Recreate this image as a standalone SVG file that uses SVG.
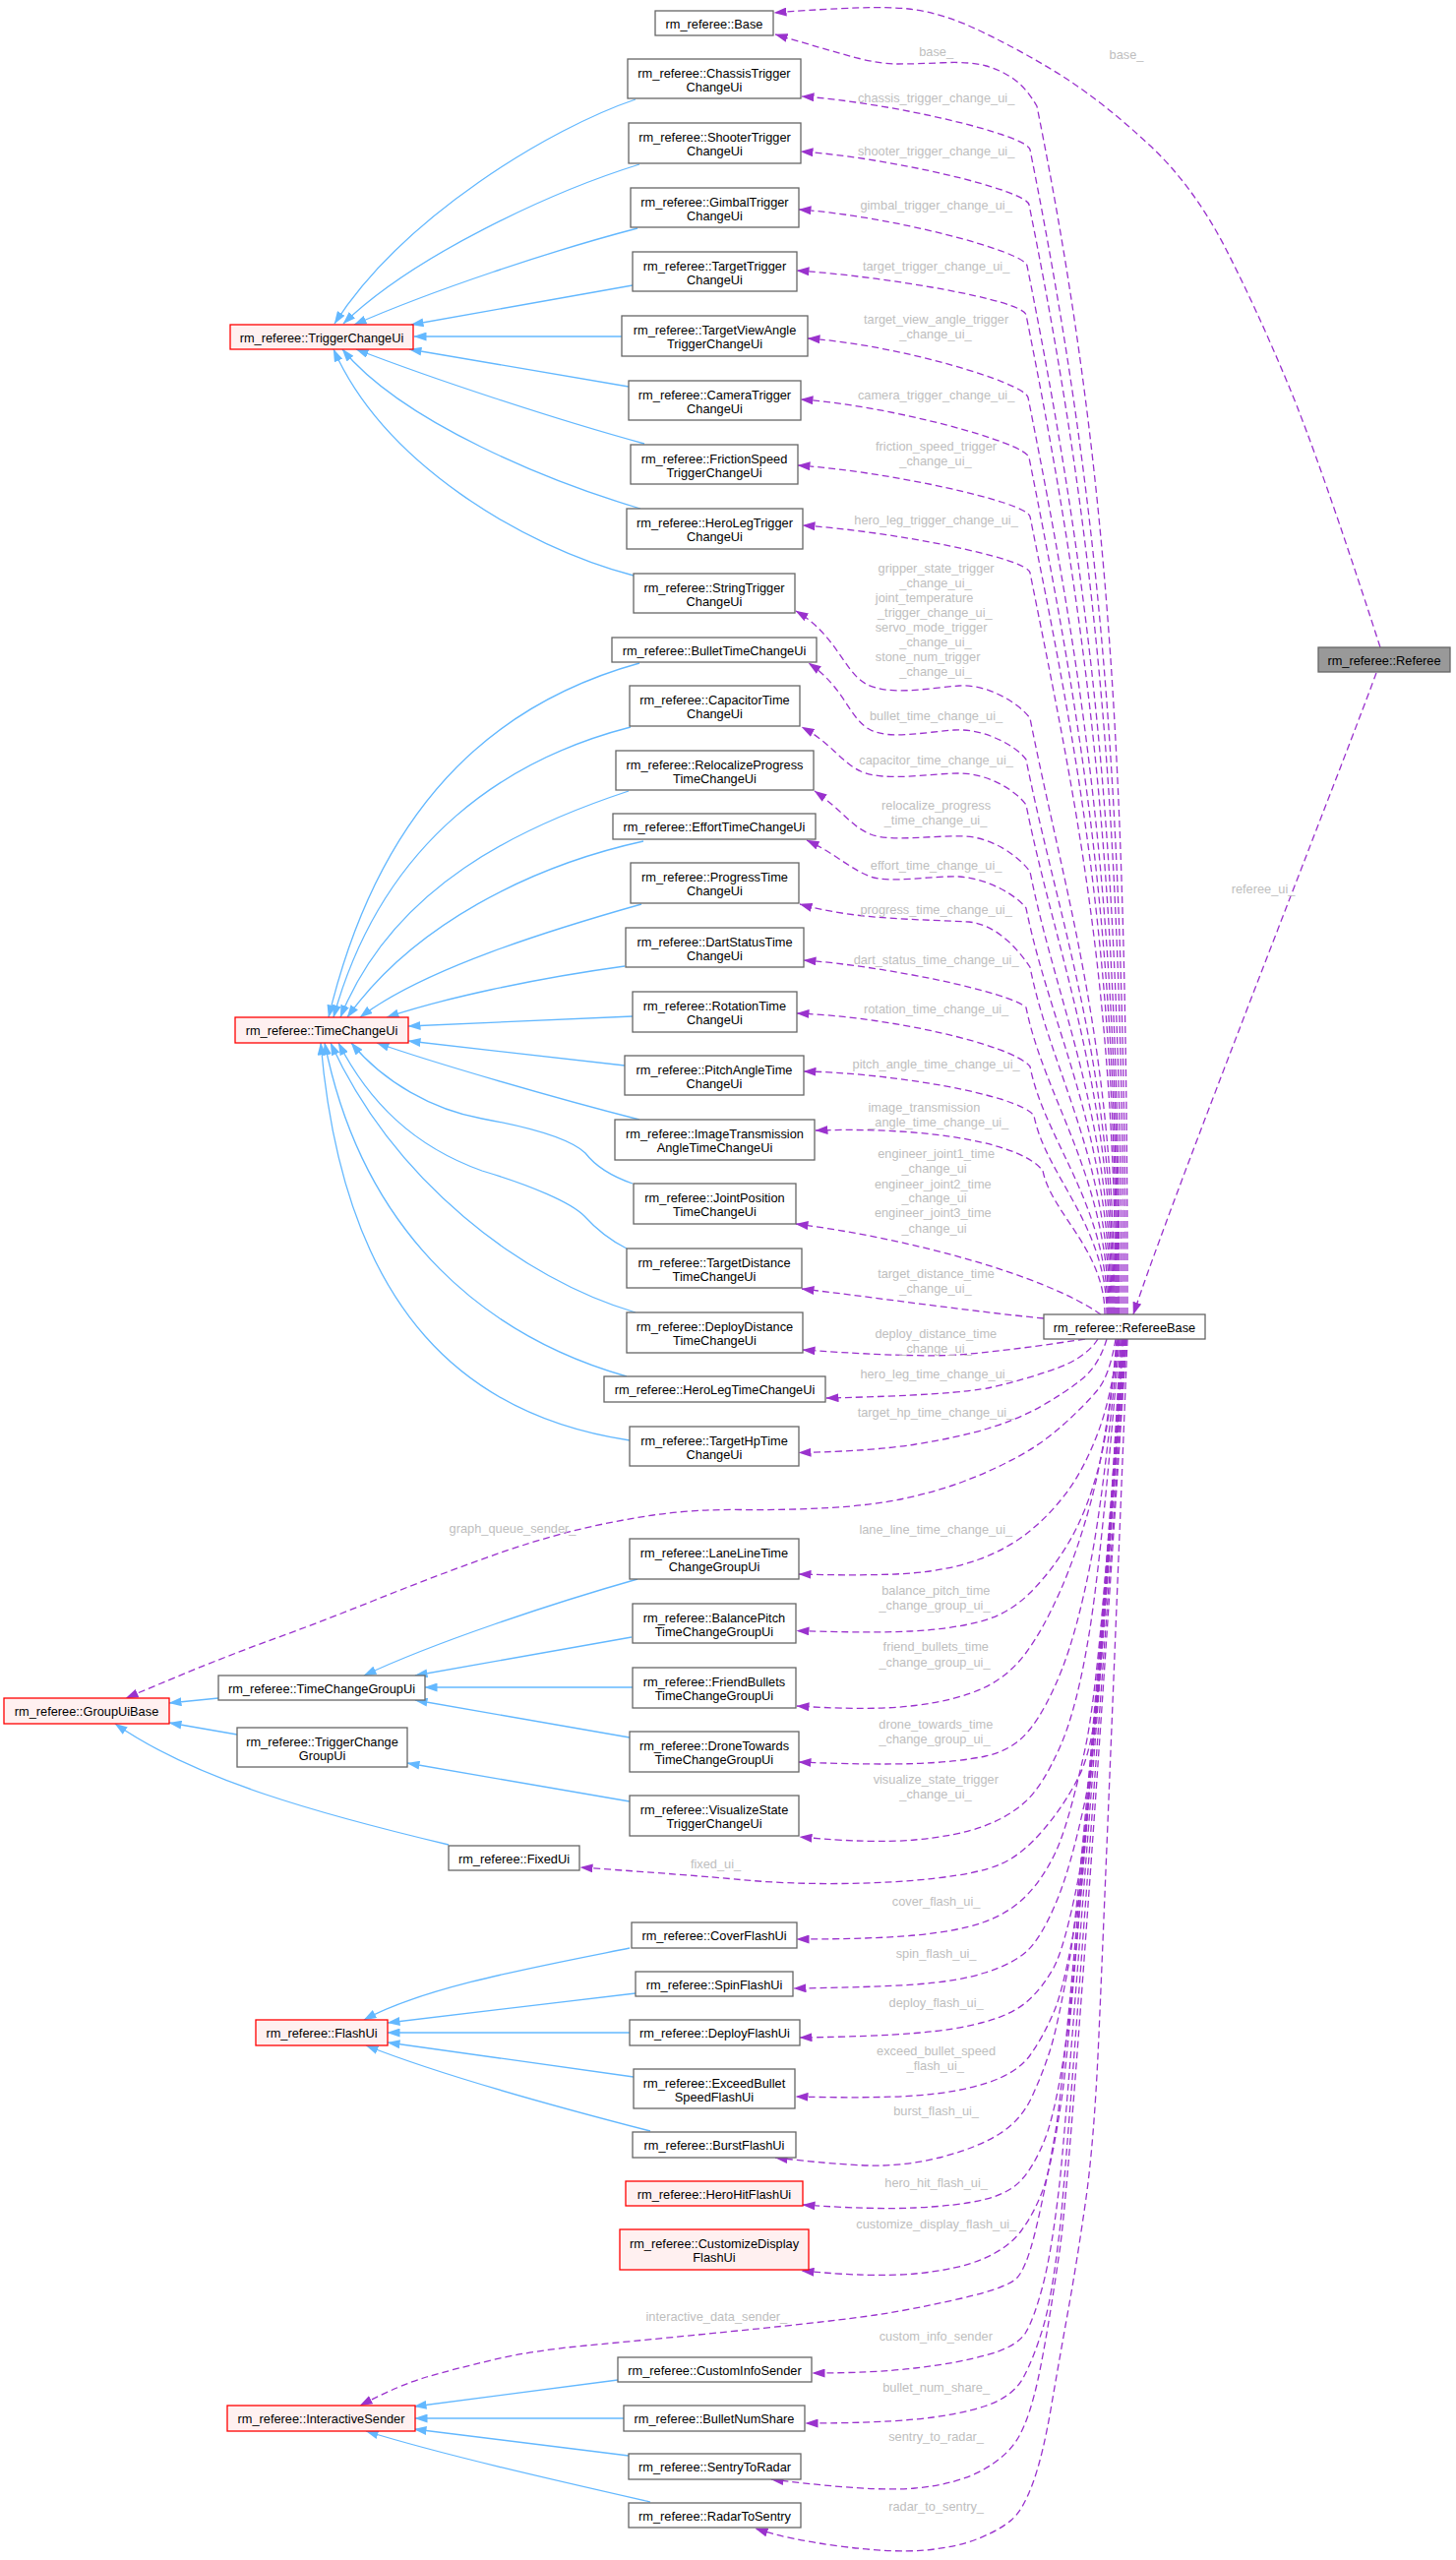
<svg xmlns="http://www.w3.org/2000/svg" width="1480" height="2602" viewBox="0 0 1480 2602">
<defs>
<style>
text{font-family:"Liberation Sans",Arial,Helvetica,sans-serif;font-size:12.8px}
.n rect{fill:#ffffff;stroke:#666666;stroke-width:1.3}
.r rect{fill:#fff0f0;stroke:#ff0000;stroke-width:1.3}
.g rect{fill:#999999;stroke:#666666;stroke-width:1.3}
.n text,.r text,.g text{text-anchor:middle;fill:#000000}
.lbl text{text-anchor:middle;fill:#bebebe}
.inh path{fill:none;stroke:#63b8ff;stroke-width:1.3;marker-end:url(#mb)}
.use path{fill:none;stroke:#9a32cd;stroke-width:1.3;stroke-dasharray:7,4;marker-end:url(#mp)}
</style>
<marker id="mp" viewBox="0 0 13 9" refX="12.5" refY="4.5" markerWidth="13" markerHeight="9" markerUnits="userSpaceOnUse" orient="auto"><path d="M0,0 L13,4.5 L0,9 z" fill="#9a32cd"/></marker>
<marker id="mb" viewBox="0 0 13 9" refX="12.5" refY="4.5" markerWidth="13" markerHeight="9" markerUnits="userSpaceOnUse" orient="auto"><path d="M0,0 L13,4.5 L0,9 z" fill="#63b8ff"/></marker>
</defs>
<rect x="0" y="0" width="1480" height="2602" fill="#ffffff"/>
<g id="connectors">
<g class="inh">
<path d="M646,101 C560,130 410,220 340,329"/>
<path d="M650,167 C560,195 420,260 349,329"/>
<path d="M648,232 C560,255 440,295 360,330"/>
<path d="M643,290 L418,330"/>
<path d="M632,342 L421,342"/>
<path d="M639,393 L416,355"/>
<path d="M655,451 C560,425 440,385 362,355"/>
<path d="M651,517 C560,490 410,430 348,355"/>
<path d="M644,585 C530,555 390,470 339,355"/>
<path d="M650,674 C520,710 390,800 334,1034"/>
<path d="M641,739 C520,770 390,850 339,1034"/>
<path d="M639,804 C530,840 400,900 346,1034"/>
<path d="M654,855 C540,880 420,940 353,1034"/>
<path d="M652,919 C560,945 430,985 366,1034"/>
<path d="M635,982 C540,995 450,1015 393,1034"/>
<path d="M643,1033 L415,1043"/>
<path d="M635,1083 L415,1058"/>
<path d="M650,1138 C560,1115 440,1080 383,1060"/>
<path d="M643,1203 C620,1195 605,1185 595,1172 C580,1158 540,1146 490,1137 C440,1128 390,1100 357,1060"/>
<path d="M637,1269 C615,1258 603,1246 594,1236 C580,1222 540,1205 490,1190 C420,1165 375,1120 344,1060"/>
<path d="M646,1334 C530,1300 400,1200 336,1060"/>
<path d="M637,1399 C500,1360 370,1260 330,1060"/>
<path d="M640,1464 C480,1440 350,1340 326,1060"/>
<path d="M648,1605 C560,1630 440,1670 370,1703"/>
<path d="M642,1664 L422,1703"/>
<path d="M643,1715 L432,1715"/>
<path d="M640,1766 L422,1728"/>
<path d="M640,1831 L414,1792"/>
<path d="M222,1726 L172,1731"/>
<path d="M241,1763 L172,1751"/>
<path d="M456,1875 C330,1845 200,1810 117,1752"/>
<path d="M640,1980 C540,2000 430,2020 370,2053"/>
<path d="M646,2026 L394,2056"/>
<path d="M640,2066 L394,2066"/>
<path d="M644,2111 L394,2076"/>
<path d="M661,2166 C560,2140 450,2110 372,2079"/>
<path d="M628,2419 L421,2446"/>
<path d="M634,2458 L422,2458"/>
<path d="M639,2496 L421,2469"/>
<path d="M661,2543 C560,2520 450,2495 372,2471"/>
</g>
<g class="use">
<path d="M1146,1336 C1146,783 1128,476 1054,108 Q1043,89 1030,80 Q1017,71 1001.5,66.75 Q986,62.5 958,63.75 Q930,65 912.5,65 Q895,65 873.5,59.5 Q852,54 788,35"/>
<path d="M1144,1336 C1144,803 1118,507 1047,152 C1044,137 905,104 815,98"/>
<path d="M1142,1336 C1142,828 1114,546 1046,208 C1043,193 904,160 814,154"/>
<path d="M1140,1336 C1140,856 1108,590 1044,270 C1041,255 902,219 812,213"/>
<path d="M1138,1336 C1138,879 1104,625 1043,320 C1040,305 900,281 810,275"/>
<path d="M1137,1336 C1137,917 1101,684 1045,404 C1042,389 911,350 821,344"/>
<path d="M1136,1336 C1136,944 1098,726 1046,465 C1043,450 904,412 814,406"/>
<path d="M1135,1336 C1135,971 1096,768 1047,525 C1044,510 901,479 811,473"/>
<path d="M1134,1336 C1134,997 1092,808 1047,582 C1044,567 906,540 816,534"/>
<path d="M1133,1336 C1133,1063 1083,912 1047,730 C1037,716 1005,695 975,697 C945,699 905,708 880,695 C858,683 850,645 809,621"/>
<path d="M1132,1336 C1132,1082 1077,941 1043,772 C1033,758 1000,740 970,742 C940,744 905,752 885,742 C862,730 860,700 822,674"/>
<path d="M1131,1336 C1131,1103 1074,973 1043,818 C1033,804 1005,786 975,786 C945,786 900,795 875,784 C855,775 845,755 815,739"/>
<path d="M1130,1336 C1130,1133 1074,1021 1047,886 C1037,872 1010,851 980,850 C945,849 905,856 885,848 C865,840 858,825 828,804"/>
<path d="M1129,1336 C1129,1150 1068,1047 1043,923 C1033,910 1005,893 975,891 C945,890 905,898 885,891 C865,884 850,868 820,854"/>
<path d="M1128,1336 C1128,1177 1068,1089 1047,983 C1037,968 1015,940 985,937 C930,934 870,935 813,919"/>
<path d="M1127,1336 C1127,1196 1062,1118 1043,1024 C1025,1008 900,982 817,976"/>
<path d="M1126,1336 C1126,1223 1062,1160 1047,1084 C1028,1061 900,1033 810,1030"/>
<path d="M1125,1336 C1125,1245 1063,1195 1051,1134 C1035,1112 900,1090 817,1089"/>
<path d="M1123,1336 C1123,1270 1069,1234 1060,1190 C1040,1163 950,1145 829,1149"/>
<path d="M1119,1336 C1060,1295 920,1258 809,1244"/>
<path d="M1061,1340 C980,1332 900,1320 815,1310"/>
<path d="M1399,684 C1360,790 1190,1220 1152,1336"/>
<path d="M1403,658 Q1342,469 1309.5,391 Q1277,313 1244.5,250 Q1212,188 1168.5,147.5 Q1125,107 1084,80 Q1043,54 1001.5,34 Q960,13 923.5,9 Q887,5 787,13"/>
<path d="M1103,1361 Q1017,1374 973.5,1377 Q930,1380 816,1372"/>
<path d="M1116,1361 Q1104,1380 1073.5,1391 Q1043,1402 1008,1410 Q973,1418 840,1421"/>
<path d="M1125,1361 Q1117,1388 1099.5,1402 Q1082,1416 1058,1429.5 Q1034,1443 1004,1452 Q974,1461 930.5,1468 Q887,1475 812,1476.5"/>
<path d="M1134,1361 Q1128,1398 1115.5,1413 Q1103,1428 1081.5,1447.5 Q1060,1467 1034,1481 Q1008,1495 980,1505.5 Q952,1516 919.5,1523 Q887,1530 843.5,1532.5 Q800,1535 752.5,1534.5 Q705,1534 664,1540 Q623,1546 582.5,1556 Q542,1566 488,1585.5 Q434,1605 379.5,1627 Q325,1649 271,1668.5 Q217,1688 128,1726"/>
<path d="M1137,1361 Q1130,1419 1116.5,1455 Q1103,1491 1086,1514.5 Q1069,1538 1047,1556 Q1025,1574 995,1585 Q965,1596 926,1599 Q887,1602 812,1600"/>
<path d="M1135,1361 Q1128,1450 1116,1494 Q1104,1538 1086.5,1567.5 Q1069,1597 1047,1619 Q1025,1641 995,1648.5 Q965,1656 926,1658 Q887,1660 810,1657.5"/>
<path d="M1136,1361 Q1124,1470 1109.5,1524 Q1095,1578 1077.5,1617.5 Q1060,1657 1042.5,1680.5 Q1025,1704 999,1716 Q973,1728 930,1733.5 Q887,1739 810,1734"/>
<path d="M1137,1361 Q1122,1520 1108.5,1588.5 Q1095,1657 1079.5,1696.5 Q1064,1736 1047,1757.5 Q1030,1779 1001.5,1785 Q973,1791 930,1792.5 Q887,1794 812,1791"/>
<path d="M1138,1361 Q1120,1580 1107.5,1658 Q1095,1736 1077.5,1775.5 Q1060,1815 1042.5,1831 Q1025,1847 999,1856.5 Q973,1866 930,1870 Q887,1874 813,1867"/>
<path d="M1139,1361 Q1125,1620 1118.5,1697.5 Q1112,1775 1097,1805 Q1082,1835 1060,1860.5 Q1038,1886 1016.5,1895 Q995,1904 951.5,1909 Q908,1914 854,1914.5 Q800,1915 752.5,1910.5 Q705,1906 590,1898"/>
<path d="M1140,1361 Q1120,1700 1103,1777.5 Q1086,1855 1073,1882.5 Q1060,1910 1042.5,1927.5 Q1025,1945 999,1954 Q973,1963 930,1967 Q887,1971 810,1971"/>
<path d="M1141,1361 Q1118,1760 1103,1830 Q1088,1900 1073,1935 Q1058,1970 1044,1983 Q1030,1996 1001.5,2005 Q973,2014 930,2017 Q887,2020 807,2021"/>
<path d="M1141,1361 Q1110,1840 1096,1910 Q1082,1980 1071,2000 Q1060,2020 1045,2033.5 Q1030,2047 1001.5,2055 Q973,2063 930,2066.5 Q887,2070 813,2071"/>
<path d="M1142,1361 Q1105,1880 1093.5,1950 Q1082,2020 1071,2045.5 Q1060,2071 1047,2089 Q1034,2107 1003.5,2117 Q973,2127 930,2130 Q887,2133 809,2131"/>
<path d="M1142,1361 Q1100,1920 1087.5,1990 Q1075,2060 1067.5,2083.5 Q1060,2107 1049,2131 Q1038,2155 1016.5,2168.5 Q995,2182 962.5,2191 Q930,2200 897.5,2201 Q865,2202 788,2193"/>
<path d="M1143,1361 Q1095,2000 1084,2073.5 Q1073,2147 1062,2174.5 Q1051,2202 1038,2216 Q1025,2230 999,2236 Q973,2242 930,2244 Q887,2246 816,2241"/>
<path d="M1143,1361 Q1090,2060 1079.5,2131 Q1069,2202 1060,2226 Q1051,2250 1038,2267.5 Q1025,2285 999,2296 Q973,2307 930,2311 Q887,2315 815,2308"/>
<path d="M1144,1361 Q1085,2100 1072.5,2169 Q1060,2238 1051.5,2271.5 Q1043,2305 1034,2315 Q1025,2325 977.5,2336 Q930,2347 890,2353 Q850,2359 750,2369 Q650,2379 596,2384 Q542,2389 501.5,2398.5 Q461,2408 433.5,2416 Q406,2424 366,2445"/>
<path d="M1144,1361 Q1085,2150 1077,2219.5 Q1069,2289 1060,2323 Q1051,2357 1042.5,2371 Q1034,2385 1003.5,2393.5 Q973,2402 930,2407 Q887,2412 826,2412"/>
<path d="M1145,1361 Q1085,2200 1077,2268.5 Q1069,2337 1060,2366.5 Q1051,2396 1040.5,2416 Q1030,2436 1001.5,2445.5 Q973,2455 930,2459 Q887,2463 819,2463"/>
<path d="M1145,1361 Q1090,2200 1077,2288.5 Q1064,2377 1055.5,2416.5 Q1047,2456 1036,2476 Q1025,2496 999,2510.5 Q973,2525 930,2529 Q887,2533 784,2520"/>
<path d="M1146,1361 Q1121,1980 1116.5,2079 Q1112,2178 1103.5,2237.5 Q1095,2297 1086,2347 Q1077,2397 1068.5,2446.5 Q1060,2496 1050,2523.5 Q1040,2551 1028.5,2561 Q1017,2571 995,2580 Q973,2589 940.5,2592 Q908,2595 854,2588 Q800,2581 768,2570"/>
</g>
<g class="lbl">
<text x="951.6" y="57">base_</text>
<text x="1145" y="60">base_</text>
<text x="951.6" y="104">chassis_trigger_change_ui_</text>
<text x="951.6" y="157.5">shooter_trigger_change_ui_</text>
<text x="951.6" y="213">gimbal_trigger_change_ui_</text>
<text x="951.6" y="275">target_trigger_change_ui_</text>
<text x="951.6" y="328.5">target_view_angle_trigger</text>
<text x="951" y="343.5">_change_ui_</text>
<text x="951.6" y="405.5">camera_trigger_change_ui_</text>
<text x="951.6" y="458">friction_speed_trigger</text>
<text x="951" y="473">_change_ui_</text>
<text x="951.6" y="533">hero_leg_trigger_change_ui_</text>
<text x="951.6" y="581.5">gripper_state_trigger</text>
<text x="951" y="596.5">_change_ui_</text>
<text x="939.6" y="611.5">joint_temperature</text>
<text x="950.3" y="626.5">_trigger_change_ui_</text>
<text x="946.6" y="641.5">servo_mode_trigger</text>
<text x="951" y="656.5">_change_ui_</text>
<text x="943.1" y="671.5">stone_num_trigger</text>
<text x="951" y="686.5">_change_ui_</text>
<text x="951.6" y="731.8">bullet_time_change_ui_</text>
<text x="951.6" y="777">capacitor_time_change_ui_</text>
<text x="951.6" y="822.7">relocalize_progress</text>
<text x="951" y="838">_time_change_ui_</text>
<text x="951.6" y="883.8">effort_time_change_ui_</text>
<text x="951.6" y="929">progress_time_change_ui_</text>
<text x="951.6" y="979.7">dart_status_time_change_ui_</text>
<text x="951.6" y="1030">rotation_time_change_ui_</text>
<text x="951.6" y="1086">pitch_angle_time_change_ui_</text>
<text x="939.4" y="1130">image_transmission</text>
<text x="953.7" y="1145">_angle_time_change_ui_</text>
<text x="951.6" y="1177.2">engineer_joint1_time</text>
<text x="949.6" y="1192.3">_change_ui</text>
<text x="948.3" y="1207.5">engineer_joint2_time</text>
<text x="949.6" y="1222.2">_change_ui</text>
<text x="948.3" y="1237.3">engineer_joint3_time</text>
<text x="949.6" y="1252.5">_change_ui</text>
<text x="951.6" y="1299">target_distance_time</text>
<text x="951" y="1314">_change_ui_</text>
<text x="951.3" y="1360">deploy_distance_time</text>
<text x="951" y="1375">_change_ui_</text>
<text x="951.6" y="1401">hero_leg_time_change_ui_</text>
<text x="951" y="1440">target_hp_time_change_ui_</text>
<text x="1284" y="907.5">referee_ui_</text>
<text x="521" y="1557.7">graph_queue_sender_</text>
<text x="951.3" y="1558.5">lane_line_time_change_ui_</text>
<text x="951.3" y="1621">balance_pitch_time</text>
<text x="950" y="1636">_change_group_ui_</text>
<text x="951.3" y="1678">friend_bullets_time</text>
<text x="950" y="1693.7">_change_group_ui_</text>
<text x="951.3" y="1757">drone_towards_time</text>
<text x="950" y="1772.4">_change_group_ui_</text>
<text x="951.3" y="1813">visualize_state_trigger</text>
<text x="951" y="1828">_change_ui_</text>
<text x="727.5" y="1898.5">fixed_ui_</text>
<text x="951.6" y="1937.3">cover_flash_ui_</text>
<text x="951.6" y="1989.5">spin_flash_ui_</text>
<text x="951.6" y="2040">deploy_flash_ui_</text>
<text x="951.6" y="2089">exceed_bullet_speed</text>
<text x="950.7" y="2104">_flash_ui_</text>
<text x="951.6" y="2150.3">burst_flash_ui_</text>
<text x="951.6" y="2222.5">hero_hit_flash_ui_</text>
<text x="951.8" y="2265.3">customize_display_flash_ui_</text>
<text x="728.4" y="2358.5">interactive_data_sender_</text>
<text x="951.3" y="2378.5">custom_info_sender</text>
<text x="951.6" y="2430.8">bullet_num_share_</text>
<text x="951.6" y="2481">sentry_to_radar_</text>
<text x="951.6" y="2551.7">radar_to_sentry_</text>
</g>
</g>
<g id="nodes">
<g id="n_referee" class="g"><rect x="1340" y="658" width="134" height="25"/><text x="1407" y="675.5">rm_referee::Referee</text></g>
<g id="n_refereebase" class="n"><rect x="1061" y="1336" width="164" height="25"/><text x="1143" y="1353.5">rm_referee::RefereeBase</text></g>
<g id="n_base" class="n"><rect x="666" y="11" width="120" height="25"/><text x="726" y="28.5">rm_referee::Base</text></g>
<g id="n_chassis" class="n"><rect x="638" y="60" width="176" height="40"/><text x="726" y="78.5">rm_referee::ChassisTrigger</text><text x="726" y="93">ChangeUi</text></g>
<g id="n_shooter" class="n"><rect x="639" y="125" width="175" height="41"/><text x="726.5" y="143.5">rm_referee::ShooterTrigger</text><text x="726.5" y="158">ChangeUi</text></g>
<g id="n_gimbal" class="n"><rect x="641" y="191" width="171" height="40"/><text x="726.5" y="209.5">rm_referee::GimbalTrigger</text><text x="726.5" y="224">ChangeUi</text></g>
<g id="n_targettrigger" class="n"><rect x="643" y="256" width="167" height="40"/><text x="726.5" y="274.5">rm_referee::TargetTrigger</text><text x="726.5" y="289">ChangeUi</text></g>
<g id="n_targetview" class="n"><rect x="632" y="321" width="189" height="41"/><text x="726.5" y="339.5">rm_referee::TargetViewAngle</text><text x="726.5" y="354">TriggerChangeUi</text></g>
<g id="n_camera" class="n"><rect x="639" y="387" width="175" height="40"/><text x="726.5" y="405.5">rm_referee::CameraTrigger</text><text x="726.5" y="420">ChangeUi</text></g>
<g id="n_friction" class="n"><rect x="641" y="452" width="170" height="40"/><text x="726" y="470.5">rm_referee::FrictionSpeed</text><text x="726" y="485">TriggerChangeUi</text></g>
<g id="n_herolegtrigger" class="n"><rect x="637" y="517" width="179" height="41"/><text x="726.5" y="535.5">rm_referee::HeroLegTrigger</text><text x="726.5" y="550">ChangeUi</text></g>
<g id="n_string" class="n"><rect x="644" y="583" width="164" height="40"/><text x="726" y="601.5">rm_referee::StringTrigger</text><text x="726" y="616">ChangeUi</text></g>
<g id="n_bullettime" class="n"><rect x="622" y="648" width="208" height="25"/><text x="726" y="665.5">rm_referee::BulletTimeChangeUi</text></g>
<g id="n_capacitor" class="n"><rect x="640" y="697" width="173" height="41"/><text x="726.5" y="715.5">rm_referee::CapacitorTime</text><text x="726.5" y="730">ChangeUi</text></g>
<g id="n_relocalize" class="n"><rect x="626" y="763" width="201" height="40"/><text x="726.5" y="781.5">rm_referee::RelocalizeProgress</text><text x="726.5" y="796">TimeChangeUi</text></g>
<g id="n_effort" class="n"><rect x="623" y="827" width="206" height="26"/><text x="726" y="844.5">rm_referee::EffortTimeChangeUi</text></g>
<g id="n_progress" class="n"><rect x="641" y="877" width="171" height="41"/><text x="726.5" y="895.5">rm_referee::ProgressTime</text><text x="726.5" y="910">ChangeUi</text></g>
<g id="n_dart" class="n"><rect x="636" y="943" width="181" height="40"/><text x="726.5" y="961.5">rm_referee::DartStatusTime</text><text x="726.5" y="976">ChangeUi</text></g>
<g id="n_rotation" class="n"><rect x="643" y="1008" width="167" height="41"/><text x="726.5" y="1026.5">rm_referee::RotationTime</text><text x="726.5" y="1041">ChangeUi</text></g>
<g id="n_pitch" class="n"><rect x="635" y="1073" width="182" height="40"/><text x="726" y="1091.5">rm_referee::PitchAngleTime</text><text x="726" y="1106">ChangeUi</text></g>
<g id="n_image" class="n"><rect x="625" y="1138" width="203" height="41"/><text x="726.5" y="1156.5">rm_referee::ImageTransmission</text><text x="726.5" y="1171">AngleTimeChangeUi</text></g>
<g id="n_joint" class="n"><rect x="644" y="1203" width="165" height="41"/><text x="726.5" y="1221.5">rm_referee::JointPosition</text><text x="726.5" y="1236">TimeChangeUi</text></g>
<g id="n_targetdistance" class="n"><rect x="637" y="1269" width="178" height="40"/><text x="726" y="1287.5">rm_referee::TargetDistance</text><text x="726" y="1302">TimeChangeUi</text></g>
<g id="n_deploydistance" class="n"><rect x="637" y="1334" width="179" height="41"/><text x="726.5" y="1352.5">rm_referee::DeployDistance</text><text x="726.5" y="1367">TimeChangeUi</text></g>
<g id="n_herolegtime" class="n"><rect x="614" y="1399" width="225" height="26"/><text x="726.5" y="1416.5">rm_referee::HeroLegTimeChangeUi</text></g>
<g id="n_targethp" class="n"><rect x="640" y="1450" width="172" height="40"/><text x="726" y="1468.5">rm_referee::TargetHpTime</text><text x="726" y="1483">ChangeUi</text></g>
<g id="n_laneline" class="n"><rect x="640" y="1564" width="172" height="41"/><text x="726" y="1582.5">rm_referee::LaneLineTime</text><text x="726" y="1597">ChangeGroupUi</text></g>
<g id="n_balance" class="n"><rect x="643" y="1630" width="166" height="40"/><text x="726" y="1648.5">rm_referee::BalancePitch</text><text x="726" y="1663">TimeChangeGroupUi</text></g>
<g id="n_friend" class="n"><rect x="643" y="1695" width="166" height="41"/><text x="726" y="1713.5">rm_referee::FriendBullets</text><text x="726" y="1728">TimeChangeGroupUi</text></g>
<g id="n_drone" class="n"><rect x="640" y="1760" width="172" height="41"/><text x="726" y="1778.5">rm_referee::DroneTowards</text><text x="726" y="1793">TimeChangeGroupUi</text></g>
<g id="n_visualize" class="n"><rect x="640" y="1825" width="172" height="41"/><text x="726" y="1843.5">rm_referee::VisualizeState</text><text x="726" y="1858">TriggerChangeUi</text></g>
<g id="n_fixedui" class="n"><rect x="456" y="1876" width="133" height="25"/><text x="522.5" y="1893.5">rm_referee::FixedUi</text></g>
<g id="n_cover" class="n"><rect x="642" y="1954" width="168" height="26"/><text x="726" y="1971.5">rm_referee::CoverFlashUi</text></g>
<g id="n_spin" class="n"><rect x="646" y="2004" width="160" height="25"/><text x="726" y="2021.5">rm_referee::SpinFlashUi</text></g>
<g id="n_deployflash" class="n"><rect x="640" y="2053" width="173" height="26"/><text x="726.5" y="2070.5">rm_referee::DeployFlashUi</text></g>
<g id="n_exceed" class="n"><rect x="644" y="2103" width="164" height="40"/><text x="726" y="2121.5">rm_referee::ExceedBullet</text><text x="726" y="2136">SpeedFlashUi</text></g>
<g id="n_burst" class="n"><rect x="643" y="2167" width="166" height="26"/><text x="726" y="2184.5">rm_referee::BurstFlashUi</text></g>
<g id="n_herohit" class="r"><rect x="636" y="2217" width="180" height="25"/><text x="726" y="2234.5">rm_referee::HeroHitFlashUi</text></g>
<g id="n_customize" class="r"><rect x="630" y="2266" width="192" height="41"/><text x="726" y="2284.5">rm_referee::CustomizeDisplay</text><text x="726" y="2299">FlashUi</text></g>
<g id="n_custominfo" class="n"><rect x="628" y="2396" width="197" height="25"/><text x="726.5" y="2413.5">rm_referee::CustomInfoSender</text></g>
<g id="n_bulletnum" class="n"><rect x="634" y="2445" width="184" height="26"/><text x="726" y="2462.5">rm_referee::BulletNumShare</text></g>
<g id="n_sentrytoradar" class="n"><rect x="639" y="2494" width="175" height="26"/><text x="726.5" y="2511.5">rm_referee::SentryToRadar</text></g>
<g id="n_radartosentry" class="n"><rect x="639" y="2544" width="175" height="25"/><text x="726.5" y="2561.5">rm_referee::RadarToSentry</text></g>
<g id="n_triggerchangeui" class="r"><rect x="234" y="330" width="186" height="25"/><text x="327" y="347.5">rm_referee::TriggerChangeUi</text></g>
<g id="n_timechangeui" class="r"><rect x="239" y="1034" width="176" height="26"/><text x="327" y="1051.5">rm_referee::TimeChangeUi</text></g>
<g id="n_timechangegroupui" class="n"><rect x="222" y="1703" width="210" height="25"/><text x="327" y="1720.5">rm_referee::TimeChangeGroupUi</text></g>
<g id="n_triggerchangegroupui" class="n"><rect x="241" y="1756" width="173" height="40"/><text x="327.5" y="1774.5">rm_referee::TriggerChange</text><text x="327.5" y="1789">GroupUi</text></g>
<g id="n_groupuibase" class="r"><rect x="4" y="1726" width="168" height="26"/><text x="88" y="1743.5">rm_referee::GroupUiBase</text></g>
<g id="n_flashui" class="r"><rect x="260" y="2053" width="134" height="26"/><text x="327" y="2070.5">rm_referee::FlashUi</text></g>
<g id="n_interactivesender" class="r"><rect x="231" y="2445" width="191" height="26"/><text x="326.5" y="2462.5">rm_referee::InteractiveSender</text></g>
</g>
</svg>
